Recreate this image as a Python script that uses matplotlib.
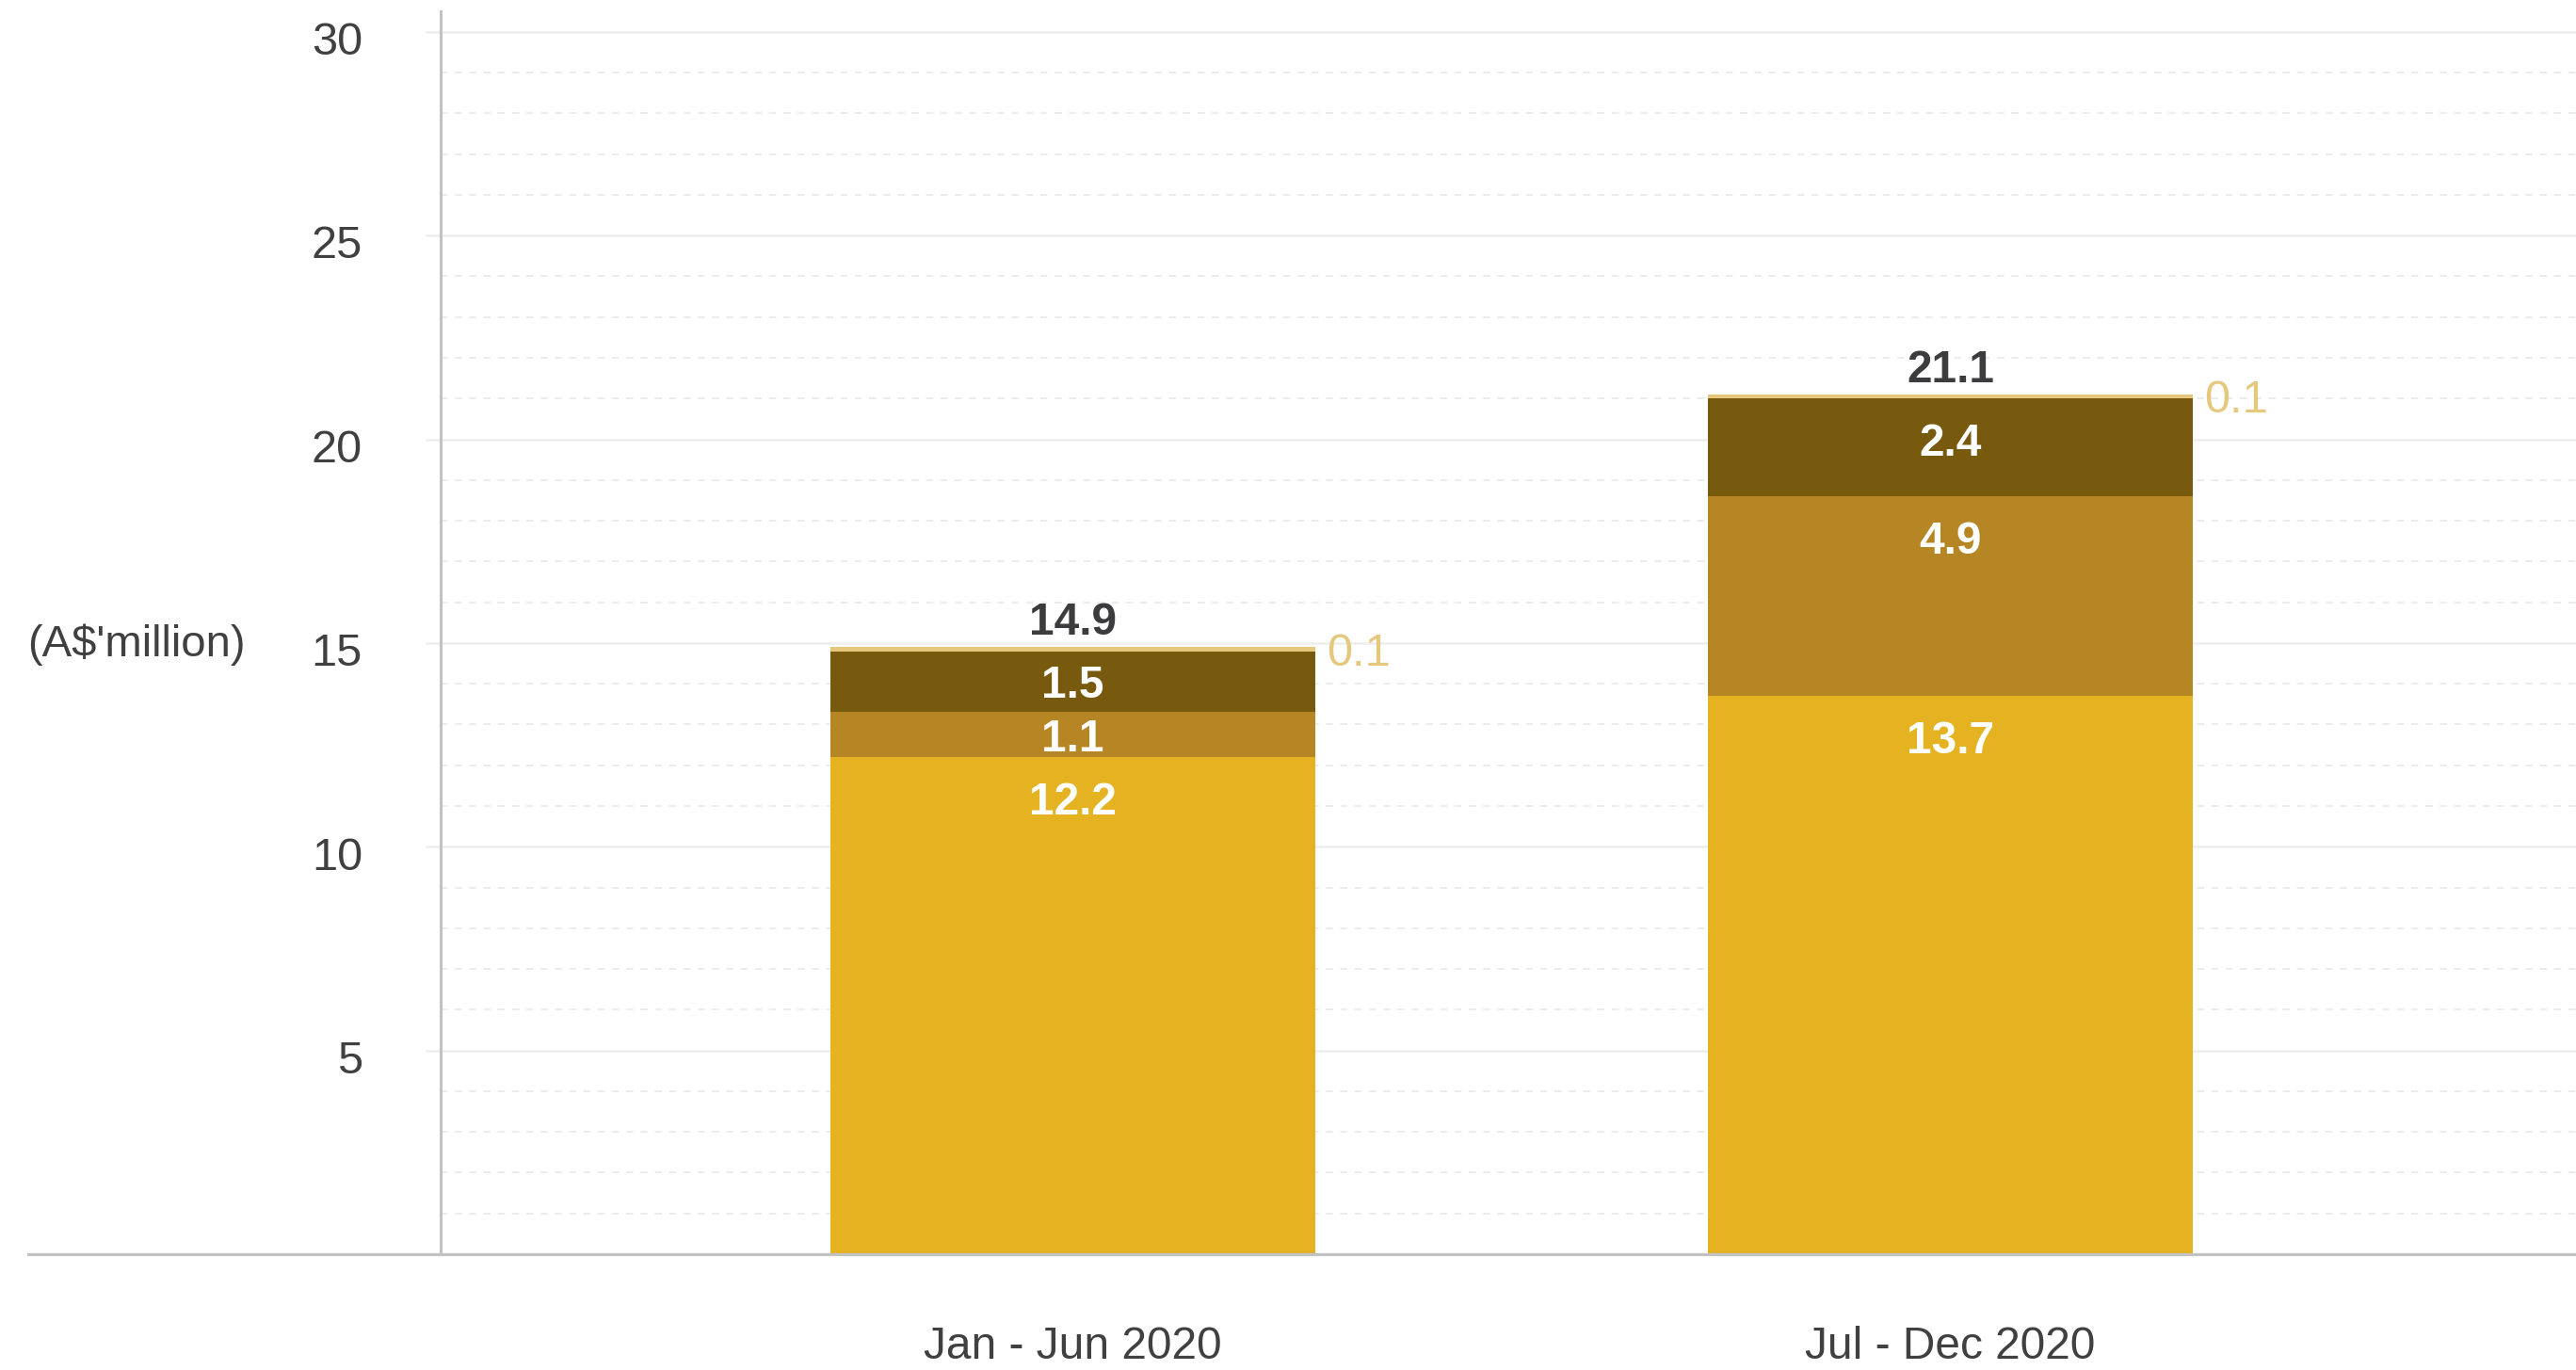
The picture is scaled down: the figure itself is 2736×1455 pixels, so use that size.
import numpy as np
import matplotlib
matplotlib.use('Agg')
import matplotlib.pyplot as plt
from matplotlib.ticker import MultipleLocator
from matplotlib.transforms import ScaledTranslation

# ---- data ----
categories = ['Jan - Jun 2020', 'Jul - Dec 2020']
seg_base = [12.2, 13.7]     # bottom (bright yellow)
seg_mid = [1.1, 4.9]        # mid ochre
seg_dark = [1.5, 2.4]       # dark brown
seg_top = [0.1, 0.1]        # pale cap
totals = [14.9, 21.1]
yticks = [5, 10, 15, 20, 25, 30]
ylabel_text = "(A$'million)"

colors = ['#E5B221', '#B68625', '#785A0F', '#E5C87D']
text_dark = '#404040'

plt.rcParams['font.family'] = ['Liberation Sans', 'DejaVu Sans']

W, H = 2736, 1455
fig = plt.figure(figsize=(W / 100, H / 100), dpi=100)
ax_left = 468 / W
ax_bottom = (H - 1332) / H
ax_h = (1332 - 11.7) / H
ax = fig.add_axes([ax_left, ax_bottom, 1 - ax_left, ax_h])

x = np.arange(len(categories))
bar_w = 0.5526
ax.set_xlim(-0.7205, 1.713)
ax.set_ylim(0, 30.51)

series = [seg_base, seg_mid, seg_dark, seg_top]
bottom = np.zeros(len(categories))
bottoms = []
for vals, col in zip(series, colors):
    vals = np.array(vals, dtype=float)
    ax.bar(x, vals, width=bar_w, bottom=bottom, color=col, linewidth=0, zorder=2)
    bottoms.append(bottom.copy())
    bottom = bottom + vals

# inside labels for the first three segments
for si in range(3):
    vals = series[si]
    for xi in range(len(categories)):
        b = bottoms[si][xi]
        v = vals[xi]
        top = b + v
        yc = max(top - 1.0, b + v / 2)
        ax.annotate(f'{v:.1f}', xy=(x[xi], yc), xytext=(0, -12.5), textcoords='offset points',
                    ha='center', va='baseline', color='white', fontweight='bold',
                    fontsize=34.5, zorder=4)

# pale cap labels to the right
for xi in range(len(categories)):
    b = bottoms[3][xi]
    v = seg_top[xi]
    ax.annotate(f'{v:.1f}', xy=(x[xi] + bar_w / 2, b + v / 2), xytext=(8.6, -12.5),
                textcoords='offset points', ha='left', va='baseline', color=colors[3],
                fontsize=35, zorder=4)

# totals
for xi in range(len(categories)):
    ax.annotate(f'{totals[xi]:.1f}', xy=(x[xi], bottom[xi]), xytext=(0, 9.5),
                textcoords='offset points', ha='center', va='baseline', color='#3c3c3e',
                fontweight='bold', fontsize=34.5, zorder=4)

# axes styling
for s in ['top', 'right', 'bottom']:
    ax.spines[s].set_visible(False)
ax.spines['left'].set_color('#c2c2c2')
ax.spines['left'].set_linewidth(2.2)
ax.spines['left'].set_zorder(3)

ax.set_axisbelow(True)
ax.set_yticks(yticks)
ax.yaxis.set_minor_locator(MultipleLocator(1))
ax.grid(which='major', axis='y', color='#eeeeee', linewidth=1.9, linestyle='-')
ax.grid(which='minor', axis='y', color='#e9e9e9', linewidth=1.2, linestyle=(0, (4.5, 4.6)))
ax.tick_params(axis='y', which='major', length=11.8, width=1.9, color='#eeeeee',
               pad=48, labelsize=35, labelcolor=text_dark)
ax.tick_params(axis='y', which='minor', length=0)
ax.set_xticks(x, categories)
ax.tick_params(axis='x', length=0, pad=80, labelsize=34.5, labelcolor=text_dark)

for lab in ax.get_yticklabels():
    lab.set_verticalalignment('baseline')
    lab.set_transform(lab.get_transform() + ScaledTranslation(0, -0.243, fig.dpi_scale_trans))
for lab in ax.get_xticklabels():
    lab.set_verticalalignment('baseline')

# baseline extending to the left of the y axis
ax.axhline(0, xmin=(30 - 468) / (W - 468), xmax=1, color='#c2c2c2', linewidth=2.3,
           clip_on=False, zorder=3)

fig.text(29 / W, (H - 697) / H, ylabel_text, ha='left', va='baseline',
         fontsize=34, color=text_dark)

fig.savefig('out.png', dpi=100)
